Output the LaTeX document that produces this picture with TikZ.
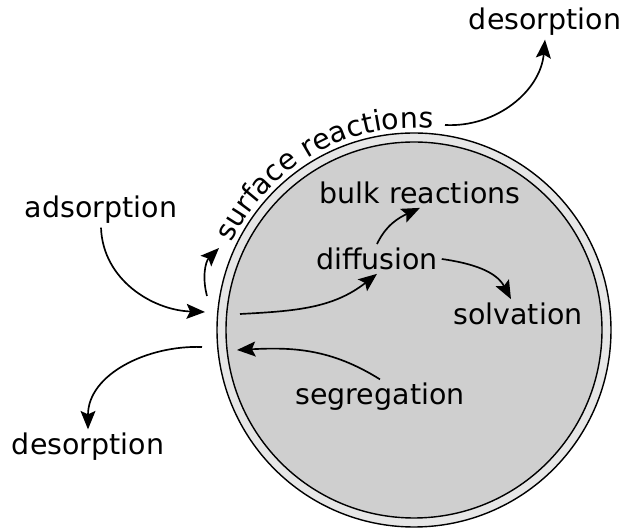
\documentclass[tikz,border=0pt]{standalone}
\usepackage{fontspec}
\setmainfont{DejaVu Sans}
\usetikzlibrary{arrows.meta,decorations.text}
\definecolor{ringgray}{HTML}{E6E6E6}
\definecolor{bulkgray}{HTML}{CFCFCF}
\begin{document}
\fontsize{16.2}{19}\selectfont
\begin{tikzpicture}[
		arr/.style={line width=0.95pt, -{Stealth[length=10.5pt, width=8.5pt, inset=2pt]}},
		lbl/.style={inner sep=2pt}]
		\useasboundingbox (0,0) rectangle (12.46,10.56);

		% particle: surface layer and bulk
		\coordinate (c) at (8.28,3.96);
		\draw[line width=0.8pt, fill=ringgray] (c) circle (3.94);
		\draw[line width=0.8pt, fill=bulkgray] (c) circle (3.76);
		\path[decorate, decoration={text along path, text align=center,
				text={surface reactions}}]
			(c) ++(156:4.04) arc[start angle=156, end angle=83, radius=4.04];

		% labels
		\node[lbl] (desTop) at (10.9,10.12) {desorption};
		\node[lbl] (ads) at (2.02,6.36) {adsorption};
		\node[lbl] (desBot) at (1.76,1.62) {desorption};
		\node[lbl] (diff) at (7.54,5.38) {diffusion};
		\node[lbl] (bulk) at (8.4,6.7) {bulk reactions};
		\node[lbl] (solv) at (10.36,4.28) {solvation};
		\node[lbl] (segr) at (7.6,2.62) {segregation};

		% free ends at the surface
		\coordinate (adsIn) at (4.1,4.32);
		\coordinate (surfUp) at (4.14,4.64);
		\coordinate (surfTip) at (4.38,5.6);
		\coordinate (desOut) at (4.04,3.62);
		\coordinate (srEnd) at (8.9,8.06);
		\coordinate (inStart) at (4.8,4.28);
		\coordinate (segIn) at (4.74,3.56);

		% processes
		\draw[arr] (ads.south) to[out=-88, in=178] (adsIn);
		\draw[arr] (surfUp) to[out=105, in=225] (surfTip);
		\draw[arr] (desOut) to[out=178, in=90] (desBot.north);
		\draw[arr] (srEnd) to[out=-3, in=-95] (desTop.south);
		\draw[arr] (inStart) to[out=3, in=218] (diff.south);
		\draw[arr] (diff.north) to[out=65, in=205] (bulk.south);
		\draw[arr] (diff.east) to[out=-8, in=118] ([xshift=-4pt]solv.north);
		\draw[arr] (segr.north) to[out=148, in=3] (segIn);

	\end{tikzpicture}
\end{document}
